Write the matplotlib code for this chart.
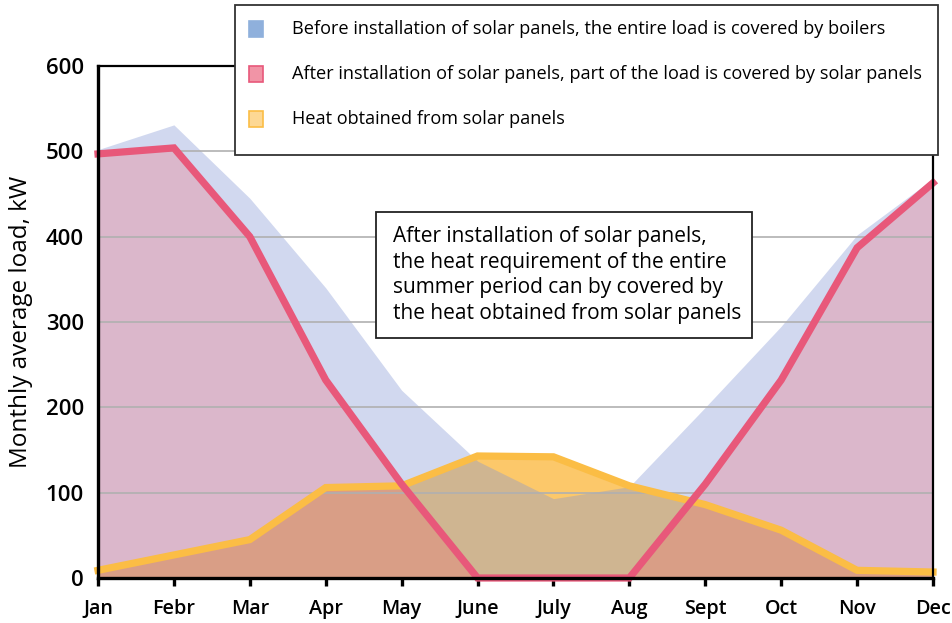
import matplotlib
matplotlib.use("Agg")
import matplotlib.pyplot as plt
from matplotlib.patches import Rectangle
import numpy as np

plt.rcParams["font.family"] = ["Open Sans", "DejaVu Sans"]

# Monthly values, kW
months = ["Jan", "Febr", "Mar", "Apr", "May", "June", "July", "Aug", "Sept", "Oct", "Nov", "Dec"]
load_before = [502, 531, 445, 340, 220, 137, 93, 107, 200, 295, 402, 468]
load_after = [497, 504, 400, 232, 110, 0, 0, 0, 110, 232, 387, 463]
solar_heat = [9, 27, 45, 106, 108, 143, 142, 108, 86, 56, 9, 7]

legend_labels = [
    "Before installation of solar panels, the entire load is covered by boilers",
    "After installation of solar panels, part of the load is covered by solar panels",
    "Heat obtained from solar panels",
]
note_text = ("After installation of solar panels,\n"
             "the heat requirement of the entire\n"
             "summer period can by covered by\n"
             "the heat obtained from solar panels")

W, H = 953, 623
fig = plt.figure(figsize=(W / 100, H / 100), dpi=100)
ax = fig.add_axes([98 / W, 1 - 578 / H, 835 / W, 512 / H])

x = np.arange(len(months))

# Stacked translucent areas
ax.fill_between(x, 0, solar_heat, color="#fcc86a", lw=0, zorder=1)
ax.fill_between(x, 0, load_before, color=(131 / 255, 150 / 255, 212 / 255), alpha=0.37, lw=0, zorder=1.1)
ax.fill_between(x, 0, load_after, color=(246 / 255, 97 / 255, 106 / 255), alpha=0.27, lw=0, zorder=1.2)

ax.plot(x, solar_heat, color="#fbbd45", lw=5.2, solid_joinstyle="miter", clip_on=False, zorder=3)
ax.plot(x, load_after, color="#e8587a", lw=5.2, solid_joinstyle="miter", clip_on=False, zorder=4)

ax.set_xlim(0, len(months) - 1)
ax.set_ylim(0, 600)
ax.set_yticks(range(0, 601, 100))
ax.set_xticks(x)
ax.set_xticklabels(months)
ax.yaxis.grid(True, color="#b0b0b0", lw=1.2)
ax.xaxis.grid(False)

for side, lw in [("left", 2.4), ("bottom", 2.4), ("top", 1.6), ("right", 1.6)]:
    ax.spines[side].set_linewidth(lw)
    ax.spines[side].set_color("black")
    ax.spines[side].set_zorder(5)

ax.tick_params(axis="y", length=0, pad=10, labelsize=16)
ax.tick_params(axis="x", length=6, width=2.4, direction="out", pad=9, labelsize=14.2)
for lab in ax.get_xticklabels() + ax.get_yticklabels():
    lab.set_fontweight("semibold")

ax.set_ylabel("Monthly average load, kW", fontsize=17.5, labelpad=9)

# Legend panel
def fx(px):
    return px / W

def fy(py):
    return 1 - py / H

fig.add_artist(Rectangle((fx(235), fy(155)), fx(938) - fx(235), fy(5) - fy(155),
                         transform=fig.transFigure, facecolor="white",
                         edgecolor="#333333", lw=1.3, zorder=10))
swatches = [("#8fb0dc", "#8fb0dc"), ("#f194a6", "#e8587a"), ("#fdd894", "#fbbd45")]
for i, (label, (fc, ec)) in enumerate(zip(legend_labels, swatches)):
    cy = 29 + 45 * i
    fig.add_artist(Rectangle((fx(249), fy(cy + 8)), fx(263) - fx(249), fy(cy - 8) - fy(cy + 8),
                             transform=fig.transFigure, facecolor=fc, edgecolor=ec,
                             lw=1.2, zorder=11))
    fig.text(fx(292), fy(cy), label, fontsize=13.1, va="center", ha="left", zorder=11)

# Annotation panel
fig.add_artist(Rectangle((fx(376), fy(338)), fx(752) - fx(376), fy(212) - fy(338),
                         transform=fig.transFigure, facecolor="white",
                         edgecolor="#222222", lw=1.3, zorder=10))
fig.text(fx(393), fy(275), note_text, fontsize=15, va="center", ha="left",
         linespacing=1.28, zorder=11)

fig.savefig("out.png", dpi=100)
